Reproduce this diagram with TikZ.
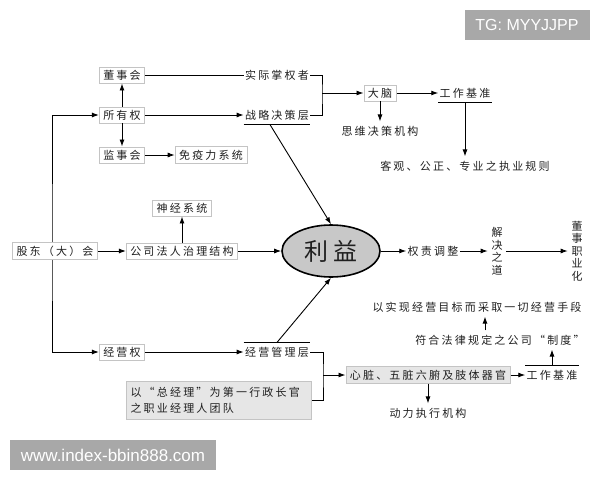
\documentclass[tikz,border=0pt]{standalone}
\usepackage{fontspec}
\newfontfamily\cjk[LetterSpace=20]{Noto Sans CJK SC}
\setsansfont{Liberation Sans}
\usetikzlibrary{arrows.meta,shapes.geometric}
\definecolor{boxline}{HTML}{C4C4C4}
\definecolor{boxfill}{HTML}{E6E6E6}
\definecolor{oval}{HTML}{C8C8C8}
\definecolor{mark}{HTML}{A8A8A8}
\tikzset{
  box/.style={draw=boxline, line width=0.8pt, fill=white, inner xsep=4pt, inner ysep=3pt},
  graybox/.style={box, fill=boxfill},
  txt/.style={inner sep=1pt, inner ysep=4pt},
  vtxt/.style={align=center, font=\cjk\fontsize{11}{12.5}\selectfont},
  stamp/.style={fill=mark, text=white, inner sep=0pt}
}
\begin{document}
\begin{tikzpicture}[->, >={Latex[length=7pt,width=5pt]}, x=1pt, y=-1pt, line width=0.9pt,
    font=\cjk\fontsize{11}{13}\selectfont, text=black!88]
  \useasboundingbox (0,0) rectangle (600,480);
  \node[box] (1) at (122,75) {董事会};
  \node[box] (2) at (122,115) {所有权};
  \node[box] (3) at (122,155) {监事会};
  \node[box] (4) at (211,155) {免疫力系统};
  \node[txt] (5) at (277,75) {实际掌权者};
  \node[txt] (6) at (277,115) {战略决策层};
  \node[box] (7) at (380,93) {大脑};
  \node[txt] (8) at (465,93) {工作基准};
  \node[txt] (9) at (380,131) {思维决策机构};
  \node[txt] (10) at (465,166) {客观、公正、专业之执业规则};
  \node[box] (12) at (182,251) {公司法人治理结构};
  \node[box] (13) at (182,208) {神经系统};
  \node[draw, ellipse, fill=oval, line width=1.6pt, minimum width=98pt, minimum height=52pt,
    font=\cjk\fontsize{24}{24}\selectfont] (14) at (331,251) {利益};
  \node[txt] (15) at (433,251) {权责调整};
  \node[vtxt] (16) at (497,251) {解\\决\\之\\道};
  \node[vtxt] (17) at (577,251) {董\\事\\职\\业\\化};
  \node[txt] (18) at (477,307) {以实现经营目标而采取一切经营手段};
  \node[txt] (19) at (500,340) {符合法律规定之公司“制度”};
  \node[txt] (20) at (552,375) {工作基准};
  \node[graybox] (21) at (428,375) {心脏、五脏六腑及肢体器官};
  \node[txt] (22) at (428,413) {动力执行机构};
  \node[box] (23) at (122,352) {经营权};
  \node[txt] (24) at (277,352) {经营管理层};
  \node[graybox, align=left, text width=177pt, minimum height=38pt,
    font=\cjk\fontsize{11}{16}\selectfont] (25) at (219,400) {以“总经理”为第一行政长官\\之职业经理人团队};
  % owner line on the left
  \coordinate (l) at (52,251);
  \draw[<->] (2.west) -| (l) |- (23.west);
  \node[box] (11) at (55,251) {股东（大）会};
  % brackets
  \coordinate (j1) at (322,93);
  \coordinate (j2) at (323,375);
  \draw[-] (1) -- (5);
  \draw[-] (5.east) -| (j1) |- (6.east);
  \draw[-] (24.east) -| (j2) |- (25.east);
  \draw[-] (6.south west) -- (6.south east);
  \draw[-] (8.south west) -- (8.south east);
  \draw[-] (24.north west) -- (24.north east);
  \draw[-] (20.north west) -- (20.north east);
  \path
  (2) edge (1)
  (2) edge (3)
  (3) edge (4)
  (2) edge (6)
  (j1) edge (7)
  (7) edge (8)
  (7) edge (9)
  (8.south) edge (10)
  ([xshift=-7pt]6.south) edge (14.north)
  (11) edge (12)
  (12) edge (13)
  (12) edge (14)
  (14) edge (15)
  (15) edge (16)
  (16) edge (17)
  ([xshift=-15pt]19.north) edge ([xshift=-15pt]19.north |- 18.south)
  (20.north) edge (20.north |- 19.south)
  (j2) edge (21)
  (21) edge (20)
  (21) edge (22)
  (23) edge (24)
  (24.north) edge (14.south);
  % watermarks
  \node[stamp, minimum width=206pt, minimum height=30pt, font=\sffamily\fontsize{17}{17}\selectfont]
    (w1) at (113,455) {www.index-bbin888.com};
  \node[stamp, minimum width=125pt, minimum height=30pt, font=\sffamily\fontsize{16}{16}\selectfont]
    (w2) at (527,25) {TG: MYYJJPP};
\end{tikzpicture}
\end{document}
